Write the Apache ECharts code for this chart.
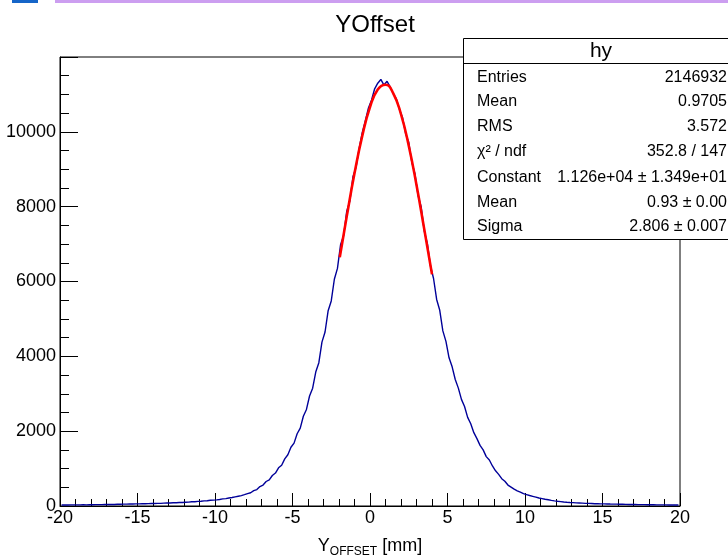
<!DOCTYPE html>
<html>
<head>
<meta charset="utf-8">
<script src="https://cdn.jsdelivr.net/npm/echarts@6/dist/echarts.min.js"></script>
<style>
html,body{margin:0;padding:0;background:#fff;}
#c{width:728px;height:555px;}
</style>
</head>
<body>
<div id="c"></div>
<script>
// Histogram definition (bin centres start at binStart + binWidth/2)
var binStart = -20;
var binWidth = 0.2;
// Bin contents (200 bins, -20 .. 20)
var histCounts = [
  27, 29, 26, 30, 29, 31, 30, 33, 31, 35,
  34, 36, 38, 37, 41, 40, 43, 42, 47, 46,
  50, 49, 54, 53, 58, 57, 61, 59, 64, 66,
  65, 71, 70, 76, 79, 80, 86, 85, 93, 95,
  100, 104, 112, 115, 124, 128, 136, 141, 152, 157,
  165, 174, 190, 198, 214, 226, 244, 262, 278, 302,
  330, 355, 410, 440, 520, 560, 655, 700, 815, 880,
  1020, 1090, 1260, 1370, 1570,
  1680, 1930, 2080, 2400, 2580, 2940, 3150, 3580, 3830, 4380,
  4650, 5220, 5480, 6060, 6350, 6980, 7230, 7880, 8150, 8800,
  9050, 9560, 9980, 10300, 10640,
  10850, 11150, 11300, 11400, 11250, 11350, 11200, 11020, 10880, 10600,
  10380, 9950, 9720, 9180, 8880, 8300, 8000, 7350, 7020, 6420,
  6080, 5520, 5230, 4680, 4400,
  3960, 3720, 3380, 3150, 2850, 2660, 2370, 2200, 1960, 1800,
  1620, 1500, 1320, 1230, 1070, 940, 845, 730, 660, 560,
  505, 450, 405, 370, 330,
  305, 280, 258, 236, 214, 198, 180, 166, 150, 136,
  126, 117, 108, 100, 93, 89, 84, 80, 76, 71,
  69, 66, 62, 61, 58, 56, 55, 52, 50, 49,
  47, 46, 44, 42, 41, 40, 38, 37, 36, 35,
  34, 33, 31, 31, 30, 29, 28, 27, 26, 25
];
// Gaussian fit curve points
var fitX = [-1.95, -1.5, -1.0, -0.5, 0, 0.5, 1.0, 1.5, 2.0, 2.5, 3.0, 3.5, 4.0];
var fitY = [6650, 7740, 8890, 9890, 10660, 11130, 11260, 11030, 10470, 9630, 8580, 7400, 6190];
// Axis ticks
var xTicks = { min: -20, max: 20, interval: 5 };
var yTicks = { min: 0, max: 12000, interval: 2000 };
// Stats box text
var statsTitle = 'hy';
var statsLabels = ['Entries', 'Mean', 'RMS', 'χ² / ndf', 'Constant', 'Mean', 'Sigma'];
var statsValues = ['2146932', '0.9705', '3.572', '352.8 / 147', '1.126e+04 ± 1.349e+01', '0.93 ± 0.00', '2.806 ± 0.007'];

var FONT = '"Liberation Sans", Arial, Helvetica, sans-serif';

var histData = histCounts.map(function (v, i) {
  return [binStart + (i + 0.5) * binWidth, v];
});
var fitData = fitX.map(function (x, i) { return [x, fitY[i]]; });

var statsGraphics = [];
statsGraphics.push({ type: 'rect', shape: { x: 463.5, y: 38.5, width: 280, height: 201 },
  style: { fill: '#fff', stroke: '#000', lineWidth: 1 }, z: 100 });
statsGraphics.push({ type: 'line', shape: { x1: 463.5, y1: 63.5, x2: 728, y2: 63.5 },
  style: { stroke: '#000', lineWidth: 1 }, z: 101 });
statsGraphics.push({ type: 'text', x: 601, y: 51, z: 102,
  style: { text: statsTitle, font: '21px ' + FONT, fill: '#000', textAlign: 'center', textVerticalAlign: 'middle' } });
var rowY = [78, 102, 127, 152, 178, 203, 227];
for (var r = 0; r < statsLabels.length; r++) {
  statsGraphics.push({ type: 'text', x: 477, y: rowY[r], z: 102,
    style: { text: statsLabels[r], font: '16px ' + FONT, fill: '#000', textAlign: 'left', textVerticalAlign: 'middle' } });
  statsGraphics.push({ type: 'text', x: 727, y: rowY[r], z: 102,
    style: { text: statsValues[r], font: '16px ' + FONT, fill: '#000', textAlign: 'right', textVerticalAlign: 'middle' } });
}

var chart = echarts.init(document.getElementById('c'));
chart.setOption({
  animation: false,
  backgroundColor: '#fff',
  title: {
    text: 'YOffset', left: 370, top: 8, textAlign: 'center',
    textStyle: { fontFamily: FONT, fontSize: 24, fontWeight: 'normal', color: '#000' }
  },
  grid: { left: 60, right: 48, top: 57, bottom: 49, show: true, borderColor: '#000', borderWidth: 1,
    backgroundColor: 'transparent', containLabel: false, outerBoundsMode: 'none' },
  xAxis: {
    type: 'value', min: xTicks.min, max: xTicks.max, interval: xTicks.interval,
    name: '{a|Y}{b|OFFSET}{a| [mm]}', nameLocation: 'middle', nameGap: 29,
    nameTextStyle: { rich: {
      a: { fontFamily: FONT, fontSize: 18, color: '#000' },
      b: { fontFamily: FONT, fontSize: 12, color: '#000', padding: [11, 0, 0, 0] }
    } },
    axisLine: { show: true, onZero: false, lineStyle: { color: '#000', width: 1 } },
    axisTick: { show: true, inside: true, length: 13, lineStyle: { color: '#000' } },
    minorTick: { show: true, splitNumber: 5, length: 7, lineStyle: { color: '#000' } },
    splitLine: { show: false },
    axisLabel: { fontFamily: FONT, fontSize: 18, color: '#000', margin: 3 }
  },
  yAxis: {
    type: 'value', min: yTicks.min, max: yTicks.max, interval: yTicks.interval,
    axisLine: { show: true, onZero: false, lineStyle: { color: '#000', width: 1 } },
    axisTick: { show: true, inside: true, length: 18, lineStyle: { color: '#000' } },
    minorTick: { show: true, splitNumber: 4, length: 9, lineStyle: { color: '#000' } },
    splitLine: { show: false },
    axisLabel: { fontFamily: FONT, fontSize: 18, color: '#000', margin: 4, showMaxLabel: false,
      formatter: function (v) { return String(v); } }
  },
  series: [
    { type: 'line', data: histData, showSymbol: false, symbol: 'none',
      lineStyle: { color: '#000099', width: 1.4 }, z: 2 },
    { type: 'line', data: fitData, smooth: true, showSymbol: false, symbol: 'none',
      lineStyle: { color: '#ff0000', width: 2.6 }, z: 3 }
  ],
  graphic: [
    { type: 'rect', shape: { x: 12, y: 0, width: 26, height: 3 }, style: { fill: '#1565c8' } },
    { type: 'rect', shape: { x: 55, y: 0, width: 673, height: 3 }, style: { fill: '#cc9ef0' } }
  ].concat(statsGraphics)
});
</script>
</body>
</html>
